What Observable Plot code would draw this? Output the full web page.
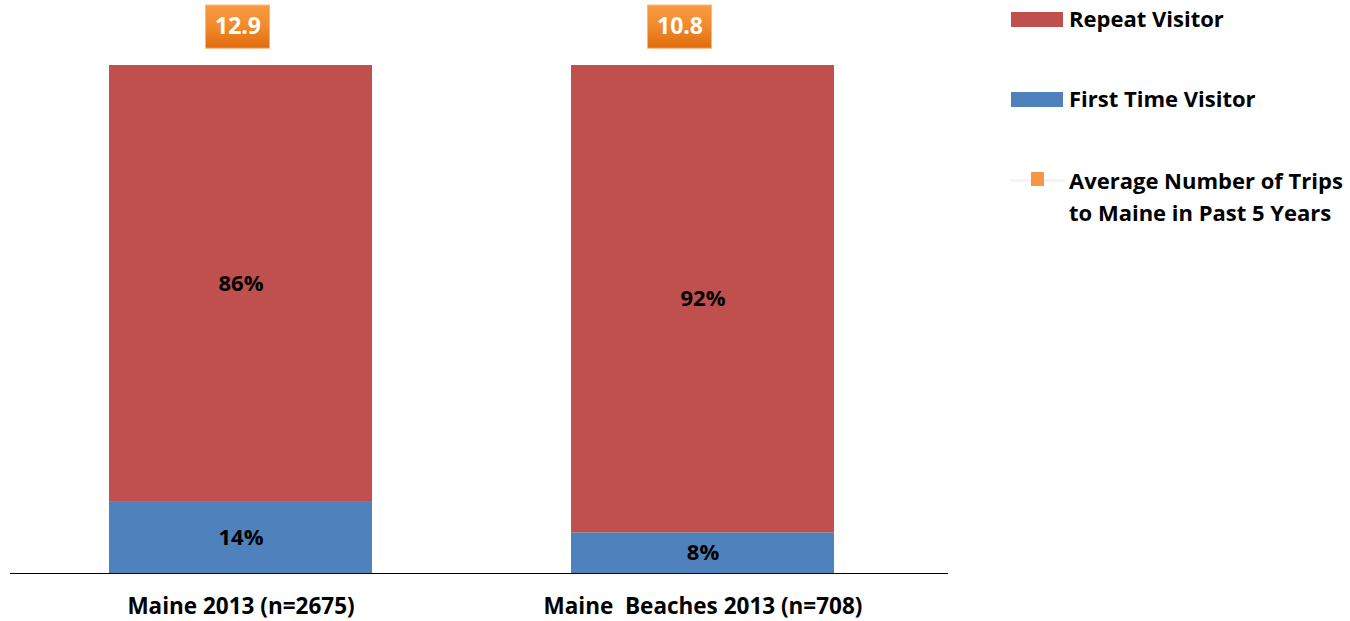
<!DOCTYPE html>
<html>
<head>
<meta charset="utf-8">
<script src="https://cdn.jsdelivr.net/npm/d3@7"></script>
<script src="https://cdn.jsdelivr.net/npm/@observablehq/plot@0.6"></script>
<style>
  body { margin: 0; background: #fff; font-family: "Open Sans", sans-serif; }
  #wrap { position: relative; width: 1350px; height: 621px; overflow: hidden; }
  svg text { white-space: pre; }
  .legend { position: absolute; left: 1010px; top: 0; font-family: "Open Sans", sans-serif; font-weight: bold; font-size: 22px; color: #000; }
  .item { position: absolute; left: 0; white-space: nowrap; }
  .sw { position: absolute; left: 1px; width: 52px; height: 15px; }
  .lbl { position: absolute; left: 59px; line-height: 32px; }
  .line { position: absolute; left: 0; width: 55px; height: 3px; background: #f4f4f4; }
  .sq { position: absolute; left: 21px; width: 13px; height: 14px; background: #f79646; }
</style>
</head>
<body>
<div id="wrap">
  <div id="chart"></div>
  <div class="legend">
    <div class="item" style="top:0px">
      <div class="sw" style="top:12px;background:#c0504d"></div>
      <div class="lbl" style="top:2px">Repeat Visitor</div>
    </div>
    <div class="item" style="top:80px">
      <div class="sw" style="top:12px;background:#4f81bd"></div>
      <div class="lbl" style="top:2px">First Time Visitor</div>
    </div>
    <div class="item" style="top:162px">
      <div class="line" style="top:17px"></div>
      <div class="sq" style="top:10px"></div>
      <div class="lbl" style="top:2px">Average Number of Trips<br>to Maine in Past 5 Years</div>
    </div>
  </div>
</div>
<script>
const categories = ["Maine 2013 (n=2675)", "Maine  Beaches 2013 (n=708)"];
const seriesNames = ["First Time Visitor", "Repeat Visitor"];
const firstTime = [14, 8];
const repeatVisitor = [86, 92];
const avgTrips = [12.9, 10.8];

const rows = [];
categories.forEach((c, i) => {
  rows.push({cat: c, series: seriesNames[0], value: firstTime[i]});
  rows.push({cat: c, series: seriesNames[1], value: repeatVisitor[i]});
});
const avgRows = categories.map((c, i) => ({cat: c, avg: avgTrips[i]}));

const LABEL_Y = 107.6; // vertical placement of the average labels (in % units above the bars)
const boxLo = 103.3, boxHi = 111.8;

const marks = [
  Plot.barY(rows, Plot.stackY({x: "cat", y: "value", fill: "series", z: "series", order: seriesNames})),
  Plot.text(rows, Plot.stackY({x: "cat", y: "value", z: "series", order: seriesNames, text: d => d.value + "%", fill: "#000", fontSize: 22, fontWeight: "bold"})),
  Plot.ruleY([0], {stroke: "#000", strokeWidth: 1.2, insetLeft: 2, insetRight: -13})
];
const offsets = [-3, -23];
avgRows.forEach((r, i) => {
  marks.push(Plot.barY([r], {x: "cat", y1: () => boxLo, y2: () => boxHi, fill: "url(#orangeGrad)", stroke: "#fab77a", strokeWidth: 1, insetLeft: 99.5, insetRight: 99.5, dx: offsets[i]}));
  marks.push(Plot.text([r], {x: "cat", y: () => LABEL_Y, text: d => d.avg.toFixed(1), fill: "#fff", fontSize: 23, fontWeight: "bold", dx: offsets[i]}));
});

const plot = Plot.plot({
  width: 1350,
  height: 621,
  marginTop: 65,
  marginBottom: 48,
  marginLeft: 8,
  marginRight: 415,
  style: {fontFamily: "'Open Sans', sans-serif", fontSize: "22.5px", fontWeight: "bold", color: "#000", background: "#fff"},
  x: {domain: categories, paddingInner: 0.4298, paddingOuter: 0.216, tickSize: 0, tickPadding: 25, label: null},
  y: {domain: [0, 100], axis: null},
  color: {domain: seriesNames, range: ["#4f81bd", "#c0504d"]},
  marks
});

const defs = document.createElementNS("http://www.w3.org/2000/svg", "defs");
defs.innerHTML = `<linearGradient id="orangeGrad" x1="0" y1="0" x2="0" y2="1">
  <stop offset="0" stop-color="#fa9a3e"/><stop offset="0.5" stop-color="#f18a2e"/><stop offset="1" stop-color="#e06c0c"/></linearGradient>
  <filter id="shadow" x="-20%" y="-20%" width="150%" height="160%"><feDropShadow dx="2" dy="3" stdDeviation="2" flood-color="#000" flood-opacity="0.35"/></filter>`;
plot.insertBefore(defs, plot.firstChild);
plot.querySelectorAll('rect[fill="url(#orangeGrad)"]').forEach(r => r.setAttribute("filter", "url(#shadow)"));
plot.querySelectorAll('g[aria-label="x-axis tick label"] text, g[aria-label="x-axis"] text').forEach(t => t.setAttribute("fill", "#000"));
document.getElementById("chart").appendChild(plot);
</script>
</body>
</html>
